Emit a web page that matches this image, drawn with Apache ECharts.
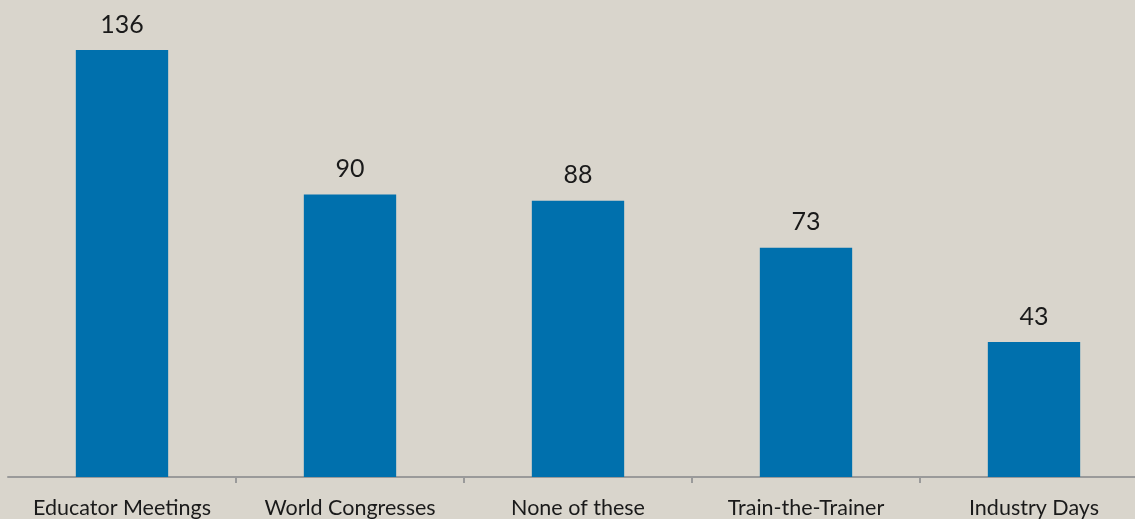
<!DOCTYPE html>
<html><head><meta charset="utf-8">
<script src="https://cdn.jsdelivr.net/npm/echarts@6/dist/echarts.min.js"></script>
<style>html,body{margin:0;padding:0;background:#d9d5cc;overflow:hidden;width:1135px;height:519px;}#c{width:1148px;height:519px;}</style>
</head><body><div id="c"></div>
<script>
const categories = ["Educator Meetings", "World Congresses", "None of these", "Train-the-Trainer", "Industry Days"];
const values = [136, 90, 88, 73, 43];

const chart = echarts.init(document.getElementById('c'), null, {renderer: 'canvas'});
chart.setOption({
  backgroundColor: '#d9d5cc',
  animation: false,
  grid: {left: 8, right: 0, top: 6, bottom: 40, containLabel: false},
  xAxis: {
    type: 'category',
    data: categories,
    axisLine: {lineStyle: {color: '#9a9a9a', width: 2}},
    axisTick: {show: true, length: 6, interval: function (i) { return i > 0; }, lineStyle: {color: '#9a9a9a', width: 2}},
    axisLabel: {color: '#1a1a1a', fontFamily: 'Lato', fontSize: 21.5, margin: 20, interval: 0}
  },
  yAxis: {
    type: 'value', min: 0, max: 150, show: false,
    splitLine: {show: false}
  },
  series: [{
    type: 'bar',
    data: values,
    barWidth: '40.5%',
    itemStyle: {color: '#0070ad'},
    label: {show: true, position: 'top', distance: 13, color: '#1a1a1a', fontFamily: 'Lato', fontSize: 25}
  }]
});
</script></body></html>
